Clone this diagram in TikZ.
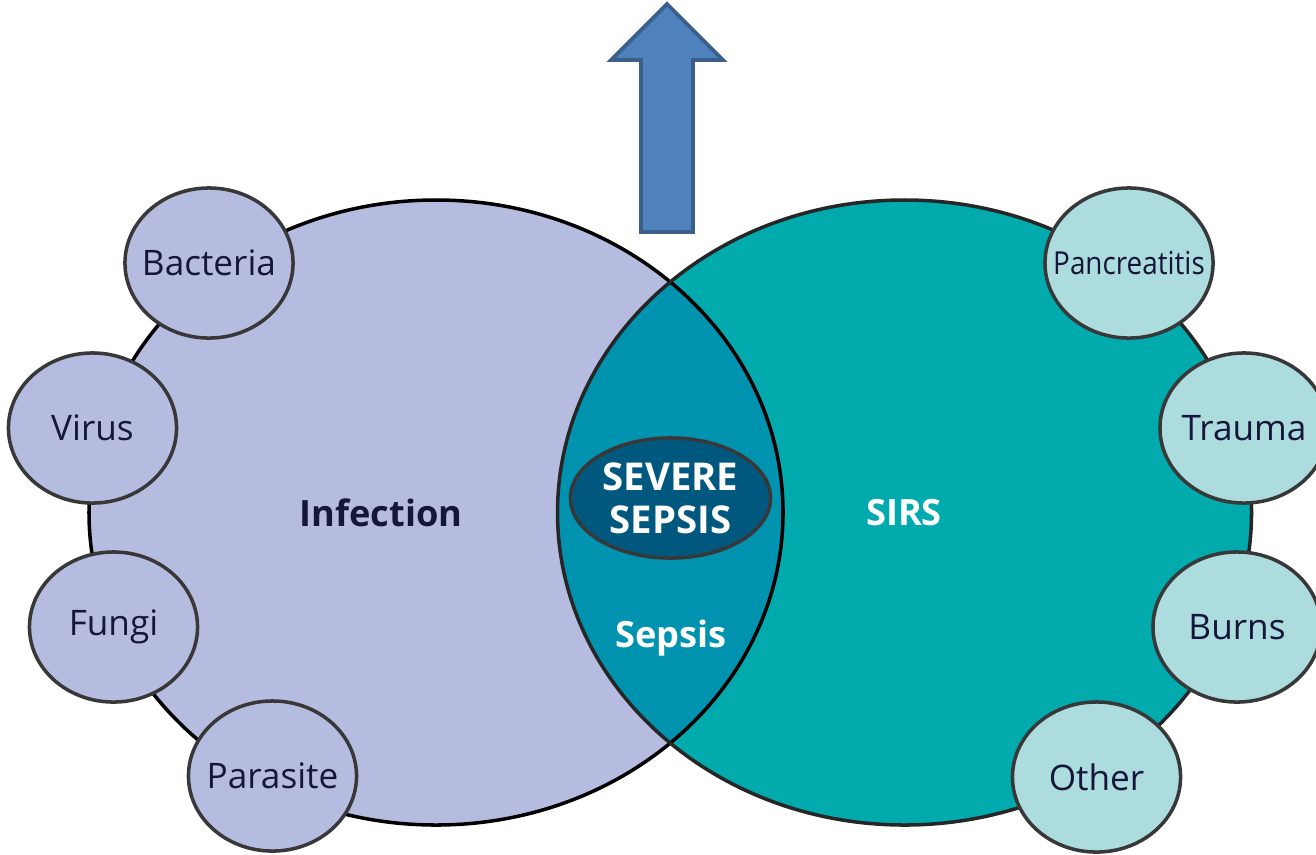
\documentclass[tikz,border=0pt]{standalone}
\usepackage{fontspec}
\setmainfont{Open Sans}
\usetikzlibrary{shapes.geometric}
\definecolor{infectfill}{HTML}{B6BCE0}
\definecolor{sirsfill}{HTML}{00AAAD}
\definecolor{sepsisfill}{HTML}{0093B0}
\definecolor{severefill}{HTML}{00587F}
\definecolor{sirscausefill}{HTML}{ACDCDE}
\definecolor{causeline}{HTML}{383838}
\definecolor{causetext}{HTML}{16163A}
\definecolor{arrowfill}{HTML}{4F81BD}
\definecolor{arrowline}{HTML}{3A5F8B}
\begin{document}
\begin{tikzpicture}[x=0.01cm,y=-0.01cm,
  cause/.style={ellipse,draw=causeline,line width=1pt,minimum width=1.68cm,minimum height=1.5cm,inner sep=0pt,
    label={[text=causetext,font=\fontsize{10}{12}\selectfont]center:#1}},
  infcause/.style={cause=#1,fill=infectfill},
  sirscause/.style={cause=#1,fill=sirscausefill},
  biglabel/.style={font=\fontsize{10.3}{12}\selectfont\bfseries,align=center}]
  \useasboundingbox (0,0) rectangle (1316,854);
  \fill[infectfill] (436,512.5) ellipse (347 and 312.5);
  \fill[sirsfill] (904.5,512.5) ellipse (347 and 312.5);
  \begin{scope} \clip (436,512.5) ellipse (347 and 312.5); \fill[sepsisfill] (904.5,512.5) ellipse (347 and 312.5); \end{scope}
  \draw[line width=1pt,black] (436,512.5) ellipse (347 and 312.5);
  \draw[line width=1pt,black!85] (904.5,512.5) ellipse (347 and 312.5);
  \node[ellipse,draw=causeline,line width=1pt,fill=severefill,minimum width=2.0cm,minimum height=1.2cm,inner sep=0pt,text=white,biglabel,font=\fontsize{10.9}{12.2}\selectfont\bfseries] (severe) at (670.5,498) {SEVERE\\SEPSIS};
  \node[biglabel,text=white] (sepsis) at (671,638) {Sepsis};
  \node[biglabel,text=causetext] (infection) at (381,513) {Infection};
  \node[biglabel,text=white] (sirs) at (904,513) {SIRS};
  \node[infcause=Bacteria] (bacteria) at (209,263) {};
  \node[infcause=Virus] (virus) at (92.5,428) {};
  \node[infcause=Fungi] (fungi) at (113.5,627) {};
  \node[infcause=Parasite] (parasite) at (272.5,776) {};
  \node[sirscause={\fontsize{9}{11}\selectfont\scalebox{0.88}[1]{Pancreatitis}}] (pancreatitis) at (1129,263) {};
  \node[sirscause=Trauma] (trauma) at (1244,428) {};
  \node[sirscause=Burns] (burns) at (1237,627) {};
  \node[sirscause=Other] (other) at (1096.5,777) {};
  \draw[line width=1.1pt,draw=arrowline,fill=arrowfill] (641,232) -- (641,60) -- (611,60) -- (667,4) -- (723,60) -- (693,60) -- (693,232) -- cycle;
\end{tikzpicture}
\end{document}
